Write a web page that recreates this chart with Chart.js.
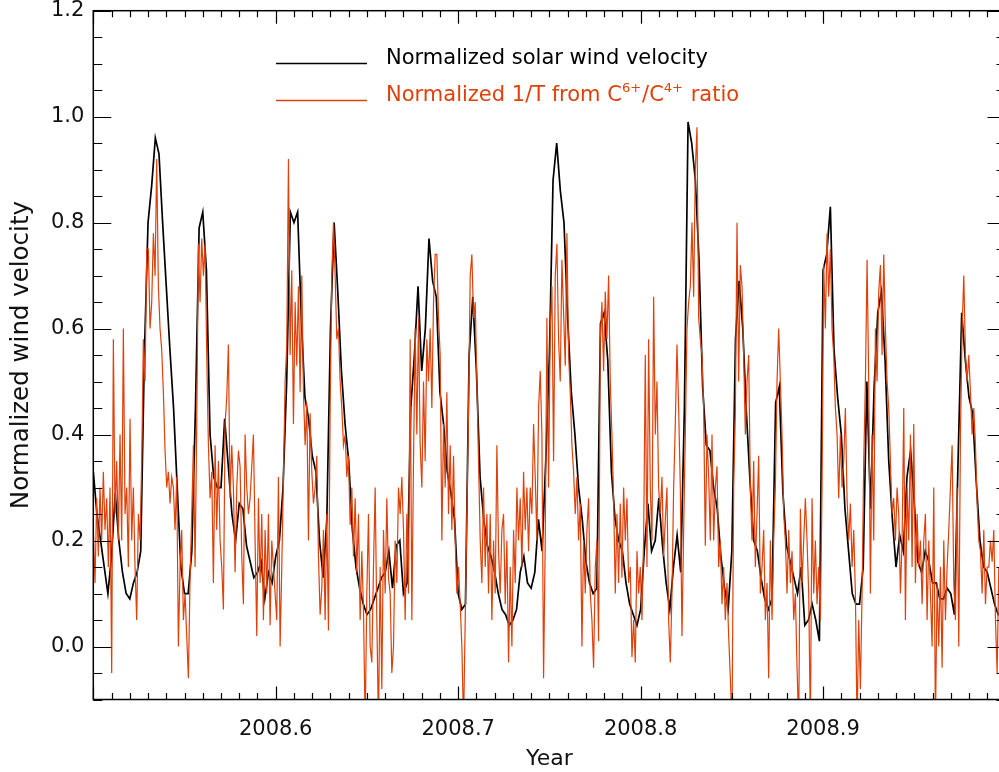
<!DOCTYPE html>
<html>
<head>
<meta charset="utf-8">
<script src="https://cdn.jsdelivr.net/npm/chart.js@4.4.1/dist/chart.umd.min.js"></script>
<style>
  html, body { margin: 0; padding: 0; background: #fff; overflow: hidden; }
  #wrap { width: 1020px; height: 772px; }
</style>
</head>
<body>
<div id="wrap"><canvas id="chart" width="1020" height="772"></canvas></div>
<script>
// black series: one sample every 0.002 yr starting at 2008.5
const velocityStart = 2008.5
const velocityStep = 0.002
// orange series is denser: one sample every ~0.000914 yr
const ratioStart = 2008.4982
const ratioStep = 0.000914

// normalized solar wind velocity (black)
const velocity = [
  0.33, 0.25, 0.20, 0.15, 0.10, 0.17, 0.29, 0.20, 0.14, 0.10,
  0.09, 0.12, 0.14, 0.18, 0.55, 0.80, 0.87, 0.96, 0.93, 0.80,
  0.68, 0.56, 0.45, 0.30, 0.15, 0.10, 0.10, 0.18, 0.45, 0.79,
  0.82, 0.71, 0.40, 0.32, 0.30, 0.30, 0.43, 0.34, 0.25, 0.20,
  0.27, 0.26, 0.19, 0.16, 0.13, 0.14, 0.16, 0.09, 0.14, 0.12,
  0.17, 0.20, 0.30, 0.50, 0.82, 0.80, 0.82, 0.62, 0.47, 0.43,
  0.36, 0.33, 0.20, 0.13, 0.24, 0.60, 0.80, 0.67, 0.52, 0.42,
  0.35, 0.22, 0.15, 0.11, 0.08, 0.06, 0.07, 0.09, 0.11, 0.13,
  0.14, 0.18, 0.11, 0.19, 0.20, 0.10, 0.12, 0.45, 0.55, 0.68,
  0.52, 0.60, 0.77, 0.69, 0.66, 0.48, 0.42, 0.33, 0.29, 0.24,
  0.10, 0.07, 0.08, 0.55, 0.66, 0.52, 0.32, 0.24, 0.19, 0.17,
  0.14, 0.10, 0.07, 0.06, 0.04, 0.05, 0.07, 0.14, 0.17, 0.12,
  0.11, 0.14, 0.24, 0.18, 0.35, 0.55, 0.88, 0.95, 0.86, 0.80,
  0.62, 0.48, 0.40, 0.30, 0.24, 0.16, 0.12, 0.10, 0.11, 0.61,
  0.63, 0.54, 0.33, 0.24, 0.20, 0.18, 0.12, 0.08, 0.06, 0.04,
  0.07, 0.18, 0.27, 0.18, 0.20, 0.28, 0.19, 0.12, 0.07, 0.15,
  0.21, 0.14, 0.45, 0.99, 0.95, 0.88, 0.73, 0.49, 0.38, 0.37,
  0.30, 0.26, 0.17, 0.11, 0.07, 0.18, 0.58, 0.69, 0.60, 0.44,
  0.31, 0.20, 0.18, 0.13, 0.09, 0.07, 0.09, 0.46, 0.49, 0.29,
  0.19, 0.16, 0.13, 0.10, 0.15, 0.04, 0.05, 0.08, 0.05, 0.01,
  0.71, 0.74, 0.83, 0.56, 0.47, 0.40, 0.26, 0.18, 0.10, 0.08,
  0.08, 0.15, 0.50, 0.26, 0.49, 0.63, 0.67, 0.54, 0.35, 0.24,
  0.15, 0.21, 0.18, 0.32, 0.37, 0.27, 0.16, 0.14, 0.18, 0.16,
  0.12, 0.12, 0.09, 0.09, 0.11, 0.10, 0.06, 0.35, 0.63, 0.54,
  0.47, 0.44, 0.31, 0.20, 0.15, 0.14, 0.11, 0.08, 0.06, 0.06
]

// normalized 1/T from the C6+/C4+ ratio (orange)
const inverseT = [
  0.22, 0.22, 0.22, 0.12, 0.28, 0.17, 0.30, 0.20, 0.33, 0.22,
  0.28, 0.15, 0.30, -0.05, 0.58, 0.25, 0.35, 0.20, 0.40, 0.20,
  0.60, 0.25, 0.30, 0.15, 0.43, 0.20, 0.30, 0.15, 0.05, 0.25,
  0.20, 0.35, 0.58, 0.50, 0.75, 0.75, 0.60, 0.65, 0.78, 0.70,
  0.92, 0.68, 0.60, 0.56, 0.48, 0.37, 0.30, 0.33, 0.27, 0.32,
  0.30, 0.22, 0.32, 0.00, 0.15, 0.22, 0.05, 0.10, 0.02, -0.06,
  0.13, 0.25, 0.38, 0.15, 0.42, 0.76, 0.65, 0.77, 0.70, 0.76,
  0.55, 0.38, 0.28, 0.33, 0.12, 0.38, 0.22, 0.35, 0.20, 0.15,
  0.07, 0.42, 0.47, 0.57, 0.28, 0.38, 0.30, 0.14, 0.30, 0.37,

  0.34, 0.17, 0.08, 0.40, 0.30, 0.25, 0.28, 0.34, 0.40, 0.20,
  0.02, 0.28, 0.12, 0.25, 0.05, 0.22, 0.10, 0.25, 0.04, 0.20,
  0.15, 0.10, 0.05, 0.32, 0.00, 0.15, 0.32, 0.50, 0.57, 0.92,
  0.55, 0.71, 0.42, 0.65, 0.53, 0.68, 0.48, 0.70, 0.48, 0.38,
  0.46, 0.20, 0.44, 0.33, 0.27, 0.30, 0.36, 0.17, 0.06, 0.11,
  0.22, 0.05, 0.25, 0.03, 0.45, 0.70, 0.80, 0.70, 0.58, 0.60,
  0.50, 0.45, 0.38, 0.40, 0.32, 0.36, 0.23, 0.30, 0.17, 0.28,
  0.14, 0.25, 0.05, 0.18, 0.07, -0.15, 0.10, 0.25, 0.00, -0.03,
  0.15, 0.30, 0.05, -0.15, 0.15, -0.08, 0.22, 0.10, 0.28, 0.13,

  0.10, -0.05, 0.00, 0.20, 0.12, 0.30, 0.25, 0.32, 0.22, 0.05,
  0.25, 0.10, 0.58, 0.05, 0.35, 0.60, 0.40, 0.62, 0.38, 0.30,
  0.50, 0.35, 0.58, 0.50, 0.60, 0.45, 0.65, 0.74, 0.74, 0.62,
  0.55, 0.20, 0.42, 0.30, 0.48, 0.25, 0.38, 0.22, 0.36, 0.20,
  0.10, 0.15, 0.08, 0.00, -0.15, 0.05, 0.25, 0.45, 0.70, 0.74,
  0.62, 0.65, 0.50, 0.35, 0.20, 0.12, 0.30, 0.15, 0.25, 0.10,
  0.25, 0.05, 0.20, 0.10, 0.38, 0.18, 0.10, 0.22, 0.25, 0.08,
  0.20, -0.03, 0.15, 0.00, 0.22, 0.12, 0.30, 0.20, 0.28, 0.15,
  0.33, 0.22, 0.30, 0.18, 0.30, 0.25, 0.42, 0.32, 0.20, 0.45,

  0.52, 0.40, -0.06, 0.20, 0.62, 0.30, 0.60, 0.68, 0.35, 0.70,
  0.76, 0.58, 0.50, 0.73, 0.63, 0.53, 0.78, 0.55, 0.48, 0.38,
  0.33, 0.25, 0.32, 0.20, 0.27, 0.00, 0.20, 0.10, 0.22, 0.28,
  0.10, 0.05, -0.04, 0.15, 0.20, 0.01, 0.58, 0.65, 0.52, 0.67,
  0.58, 0.70, 0.50, 0.40, 0.28, 0.10, 0.25, 0.12, 0.27, 0.13,
  0.30, 0.20, 0.28, 0.12, 0.15, -0.02, 0.05, -0.03, 0.18, 0.10,
  0.15, 0.05, 0.20, 0.55, 0.15, 0.58, 0.30, 0.20, 0.66, 0.40,
  0.50, 0.30, 0.25, 0.32, 0.17, 0.24, 0.30, 0.05, -0.03, 0.10,
  0.30, 0.42, 0.57, 0.45, 0.30, 0.02, 0.22, 0.40, 0.60, 0.65,

  0.68, 0.80, 0.66, 0.90, 0.98, 0.62, 0.58, 0.55, 0.45, 0.19,
  0.40, 0.32, 0.20, 0.40, 0.20, 0.30, 0.34, 0.15, 0.20, 0.08,
  0.15, 0.05, 0.12, 0.02, -0.06, -0.15, 0.30, 0.44, 0.80, 0.50,
  0.72, 0.68, 0.55, 0.40, 0.50, 0.55, 0.30, 0.20, 0.35, 0.15,
  0.25, 0.36, 0.10, 0.15, 0.22, 0.05, 0.12, -0.06, 0.20, 0.05,
  0.20, 0.30, 0.50, 0.60, 0.50, 0.40, 0.25, 0.20, 0.10, 0.22,
  0.12, 0.18, 0.05, 0.10, -0.04, -0.15, 0.26, 0.12, 0.20, 0.28,
  0.20, 0.10, -0.15, 0.28, 0.10, 0.20, 0.08, 0.15, 0.05, 0.30,
  0.72, 0.60, 0.78, 0.66, 0.75, 0.60, 0.55, 0.45, 0.40, 0.28,

  0.40, 0.30, 0.35, 0.45, 0.28, 0.20, 0.27, 0.15, 0.22, 0.10,
  -0.15, 0.05, -0.08, 0.10, 0.35, 0.50, 0.73, 0.50, 0.10, 0.40,
  0.20, 0.60, 0.50, 0.67, 0.72, 0.55, 0.74, 0.60, 0.50, 0.45,
  0.35, 0.25, 0.28, 0.20, 0.30, 0.25, 0.10, 0.20, 0.45, 0.05,
  0.30, 0.20, 0.40, 0.15, 0.42, 0.12, 0.25, 0.15, 0.20, 0.08,
  0.20, 0.25, 0.05, 0.20, 0.10, 0.00, 0.30, -0.15, 0.12, 0.00,
  0.15, -0.04, 0.20, 0.05, 0.15, 0.22, 0.30, 0.38, 0.12, 0.05,
  0.30, 0.00, 0.40, 0.60, 0.70, 0.55, 0.50, 0.55, 0.48, 0.40,
  0.45, 0.38, 0.27, 0.20, 0.18, 0.10, 0.22, 0.08, 0.15, 0.15,
  0.20, 0.16, 0.22, 0.05, -0.05, 0.15
]

const xTickValues = [2008.6, 2008.7, 2008.8, 2008.9]
const yTickValues = [0.0, 0.2, 0.4, 0.6, 0.8, 1.0, 1.2]
const seriesLabels = ['Normalized solar wind velocity', 'Normalized 1/T from C⁶⁺/C⁴⁺ ratio']
const seriesColors = ['#000000', '#e0400a']

const FONT = "'DejaVu Sans', sans-serif"

// IDL-style box with inward ticks on all four sides
const frameTicks = {
    id: 'frameTicks',
    afterDatasetsDraw(chart) {
        const { ctx, chartArea: a, scales } = chart
        const xs = scales.x
        const ys = scales.y
        ctx.save()
        ctx.strokeStyle = '#000'
        ctx.lineWidth = 1.5
        ctx.strokeRect(a.left, a.top, a.right - a.left, a.bottom - a.top)
        ctx.lineWidth = 1.2
        ctx.beginPath()
        for (let k = 0; k <= 50; k++) {
            const v = xs.min + k * 0.01
            const px = Math.round(xs.getPixelForValue(v)) + 0.5
            const len = k % 10 === 0 ? 13 : 6.5
            ctx.moveTo(px, a.bottom)
            ctx.lineTo(px, a.bottom - len)
            ctx.moveTo(px, a.top)
            ctx.lineTo(px, a.top + len)
        }
        for (let k = 0; k <= 26; k++) {
            const v = -0.1 + k * 0.05
            const py = Math.round(ys.getPixelForValue(v)) + 0.5
            const major = Math.abs(Math.round(v * 100) % 20) === 0
            const len = major ? 18 : 9
            ctx.moveTo(a.left, py)
            ctx.lineTo(a.left + len, py)
            ctx.moveTo(a.right, py)
            ctx.lineTo(a.right - len, py)
        }
        ctx.stroke()
        ctx.restore()
    },
}

const SUP = { '⁶': '6', '⁴': '4', '⁺': '+' }

function drawLabel(ctx, text, x, y, size) {
    const runs = []
    for (const ch of text) {
        const sup = ch in SUP
        const c = sup ? SUP[ch] : ch
        if (runs.length && runs[runs.length - 1].sup === sup) runs[runs.length - 1].t += c
        else runs.push({ sup, t: c })
    }
    let cx = x
    for (const r of runs) {
        const fs = r.sup ? size * 0.62 : size
        ctx.font = fs + 'px ' + FONT
        ctx.fillText(r.t, cx, r.sup ? y - size * 0.45 : y)
        cx += ctx.measureText(r.t).width + (r.sup ? 1 : 0)
    }
}

const insideLegend = {
    id: 'insideLegend',
    afterDraw(chart) {
        const { ctx } = chart
        const rows = [63, 100]
        ctx.save()
        ctx.textBaseline = 'alphabetic'
        chart.data.datasets.forEach((ds, i) => {
            const y = rows[i]
            ctx.strokeStyle = ds.borderColor
            ctx.lineWidth = 1.5
            ctx.beginPath()
            ctx.moveTo(276, y + 0.5)
            ctx.lineTo(367, y + 0.5)
            ctx.stroke()
            ctx.fillStyle = ds.borderColor
            drawLabel(ctx, ds.label, 386, y + 1, 21)
        })
        ctx.restore()
    },
}

const ctx = document.getElementById('chart').getContext('2d')

new Chart(ctx, {
    type: 'line',
    data: {
        datasets: [
            {
                label: seriesLabels[0],
                data: velocity.map((y, i) => ({ x: velocityStart + i * velocityStep, y })),
                borderColor: seriesColors[0],
                borderWidth: 1.7,
                pointRadius: 0,
                tension: 0,
                order: 1,
            },
            {
                label: seriesLabels[1],
                data: inverseT.map((y, i) => ({ x: ratioStart + i * ratioStep, y })),
                borderColor: seriesColors[1],
                borderWidth: 1.2,
                pointRadius: 0,
                tension: 0,
                order: 0,
            },
        ],
    },
    options: {
        responsive: false,
        animation: false,
        events: [],
        layout: { padding: { top: 10.7, right: 14.5, left: 0, bottom: 0 } },
        plugins: {
            legend: { display: false },
            tooltip: { enabled: false },
        },
        scales: {
            x: {
                type: 'linear',
                min: 2008.5,
                max: 2009.0,
                grid: { display: false, drawTicks: false },
                border: { display: false },
                afterBuildTicks: (s) => {
                    s.ticks = xTickValues.map((v) => ({ value: v }))
                },
                afterFit: (s) => {
                    s.height = 72.5
                    s.paddingLeft = 0
                    s.paddingRight = 0
                },
                ticks: {
                    autoSkip: false,
                    maxRotation: 0,
                    padding: 20,
                    color: '#111',
                    font: { family: FONT, size: 21, lineHeight: 1 },
                    callback: (v) => Number(v).toFixed(1),
                },
                title: {
                    display: true,
                    text: 'Year',
                    color: '#111',
                    font: { family: FONT, size: 22, lineHeight: 1.2 },
                    padding: { top: 0, bottom: 0 },
                },
            },
            y: {
                min: -0.1,
                max: 1.2,
                grid: { display: false, drawTicks: false },
                border: { display: false },
                afterBuildTicks: (s) => {
                    s.ticks = yTickValues.map((v) => ({ value: v }))
                },
                afterFit: (s) => {
                    s.width = 93.3
                    s.paddingTop = 0
                    s.paddingBottom = 0
                },
                ticks: {
                    autoSkip: false,
                    padding: 9,
                    color: '#111',
                    font: { family: FONT, size: 21, lineHeight: 1 },
                    callback: (v) => Number(v).toFixed(1),
                },
                title: {
                    display: true,
                    text: 'Normalized wind velocity',
                    color: '#111',
                    font: { family: FONT, size: 24.5, lineHeight: 1.2 },
                    padding: { top: 7, bottom: 0 },
                },
            },
        },
    },
    plugins: [frameTicks, insideLegend],
})
</script>
</body>
</html>
